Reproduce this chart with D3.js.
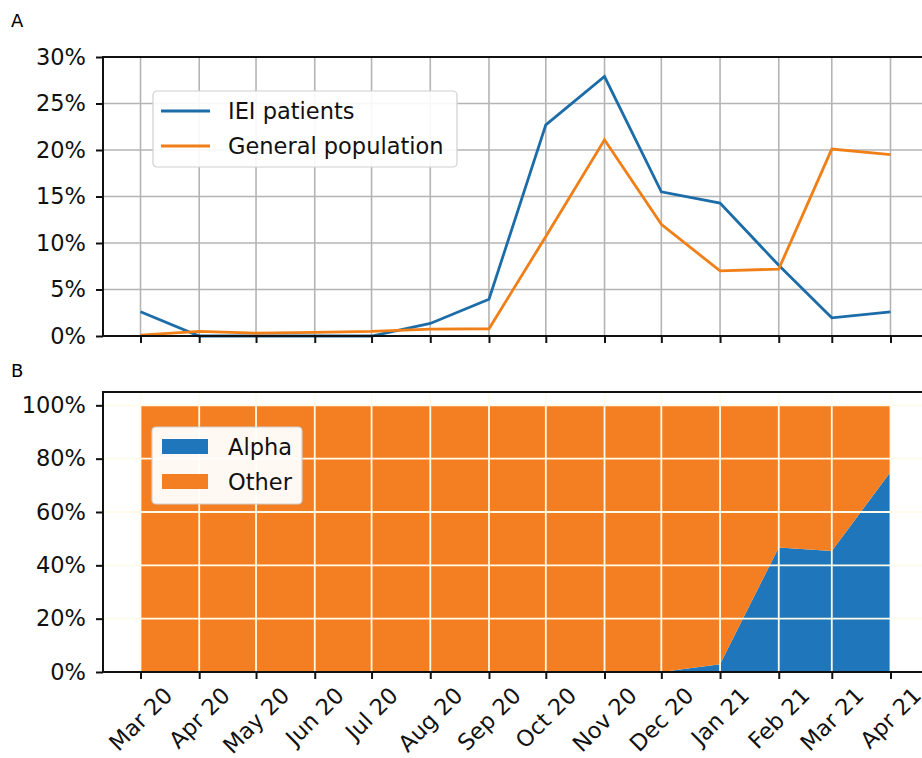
<!DOCTYPE html>
<html>
<head>
<meta charset="utf-8">
<script src="https://cdn.jsdelivr.net/npm/d3@7"></script>
<style>
  body { margin: 0; background: #fff; }
  svg { font-family: "DejaVu Sans", sans-serif; }
</style>
</head>
<body>
<svg id="chart" width="922" height="758"></svg>
<script>
/*
Two stacked panels: positivity line chart (A) and variant share stack (B)
*/
var months = ["2020-03-01","2020-04-01","2020-05-01","2020-06-01","2020-07-01","2020-08-01",
  "2020-09-01","2020-10-01","2020-11-01","2020-12-01","2021-01-01","2021-02-01","2021-03-01","2021-04-01"];
var monthLabels = ["Mar 20","Apr 20","May 20","Jun 20","Jul 20","Aug 20","Sep 20",
  "Oct 20","Nov 20","Dec 20","Jan 21","Feb 21","Mar 21","Apr 21"];

// panel A, percent positive
var ieiPatients = [2.6, 0, 0, 0, 0, 1.35, 3.95, 22.7, 27.9, 15.5, 14.3, 7.6, 1.95, 2.6];
var generalPopulation = [0.1, 0.5, 0.3, 0.4, 0.5, 0.75, 0.78, 10.7, 21.1, 12.0, 7.0, 7.2, 20.1, 19.5];
var yTicksA = [0, 5, 10, 15, 20, 25, 30];

// panel B, share of sequenced samples
var alphaShare = [0, 0, 0, 0, 0, 0, 0, 0, 0, 0, 0.029, 0.467, 0.454, 0.75];
var yTicksB = [0, 0.2, 0.4, 0.6, 0.8, 1.0];

var blueLine = "#1c6ca8", orangeLine = "#f17f17";
var blueFill = "#1f76ba", orangeFill = "#f47f22";
var fs = 22.5;

var svg = d3.select("#chart");
var dates = months.map(function(s) { return new Date(s + "T00:00:00Z"); });

// x: matplotlib-like 5% margin on each side
var span = dates[dates.length - 1] - dates[0];
var x = d3.scaleUtc()
    .domain([new Date(+dates[0] - span * 0.05), new Date(+dates[dates.length - 1] + span * 0.05)])
    .range([103, 928]);

var left = 103, right = 928;

// ---------- panel A ----------
var topA = 57, botA = 336;
var yA = d3.scaleLinear().domain([0, 30]).range([botA, topA]);

var gA = svg.append("g");

gA.append("g").selectAll("line.vgrid")
    .data(dates)
  .enter().append("line")
    .attr("x1", function(d) { return x(d); })
    .attr("x2", function(d) { return x(d); })
    .attr("y1", topA).attr("y2", botA)
    .attr("stroke", "#b4b4b4").attr("stroke-width", 1.6);

gA.append("g").selectAll("line.hgrid")
    .data(yTicksA)
  .enter().append("line")
    .attr("x1", left).attr("x2", right)
    .attr("y1", function(d) { return yA(d); })
    .attr("y2", function(d) { return yA(d); })
    .attr("stroke", "#b4b4b4").attr("stroke-width", 1.6);

var lineA = d3.line()
    .x(function(d, i) { return x(dates[i]); })
    .y(function(d) { return yA(d); });

gA.append("path").datum(ieiPatients)
    .attr("d", lineA).attr("fill", "none")
    .attr("stroke", blueLine).attr("stroke-width", 2.8);

gA.append("path").datum(generalPopulation)
    .attr("d", lineA).attr("fill", "none")
    .attr("stroke", orangeLine).attr("stroke-width", 2.8);

// spines
gA.append("rect")
    .attr("x", left).attr("y", topA)
    .attr("width", right - left).attr("height", botA - topA)
    .attr("fill", "none").attr("stroke", "#111").attr("stroke-width", 2);

gA.append("g")
    .attr("transform", "translate(" + left + ",0)")
    .call(d3.axisLeft(yA).tickValues(yTicksA).tickSize(7).tickPadding(10)
      .tickFormat(function(d) { return d + "%"; }));

gA.append("g")
    .attr("transform", "translate(0," + botA + ")")
    .call(d3.axisBottom(x).tickValues(dates).tickSize(7).tickFormat(""));

// legend A
var legA = gA.append("g").attr("transform", "translate(153,91)");
legA.append("rect")
    .attr("width", 304).attr("height", 76).attr("rx", 4)
    .attr("fill", "#fff").attr("fill-opacity", 0.9)
    .attr("stroke", "#d0d0d0").attr("stroke-width", 1.2);
[["IEI patients", blueLine], ["General population", orangeLine]].forEach(function(it, i) {
  var yy = 20 + i * 35;
  legA.append("line")
      .attr("x1", 8).attr("x2", 57).attr("y1", yy).attr("y2", yy)
      .attr("stroke", it[1]).attr("stroke-width", 2.8);
  legA.append("text")
      .attr("x", 75).attr("y", yy).attr("dy", "0.36em")
      .attr("font-size", fs).attr("fill", "#111")
      .text(it[0]);
});

// ---------- panel B ----------
var topB = 392, botB = 672;
var yB = d3.scaleLinear().domain([0, 1.05]).range([botB, topB]);

var gB = svg.append("g");

var stackRows = dates.map(function(d, i) { return { date: d, alpha: alphaShare[i], other: 1 - alphaShare[i] }; });
var series = d3.stack().keys(["alpha", "other"])(stackRows);
var area = d3.area()
    .x(function(d) { return x(d.data.date); })
    .y0(function(d) { return yB(d[0]); })
    .y1(function(d) { return yB(d[1]); });

gB.selectAll("path.layer")
    .data(series)
  .enter().append("path")
    .attr("d", area)
    .attr("fill", function(d) { return d.key === "alpha" ? blueFill : orangeFill; });

// white grid drawn over the areas
gB.append("g").selectAll("line")
    .data(dates)
  .enter().append("line")
    .attr("x1", function(d) { return x(d); })
    .attr("x2", function(d) { return x(d); })
    .attr("y1", topB).attr("y2", botB)
    .attr("stroke", "#fffbea").attr("stroke-width", 1.8);

gB.append("g").selectAll("line")
    .data(yTicksB)
  .enter().append("line")
    .attr("x1", left).attr("x2", right)
    .attr("y1", function(d) { return yB(d); })
    .attr("y2", function(d) { return yB(d); })
    .attr("stroke", "#fffbea").attr("stroke-width", 1.8);

gB.append("rect")
    .attr("x", left).attr("y", topB)
    .attr("width", right - left).attr("height", botB - topB)
    .attr("fill", "none").attr("stroke", "#111").attr("stroke-width", 2);

gB.append("g")
    .attr("transform", "translate(" + left + ",0)")
    .call(d3.axisLeft(yB).tickValues(yTicksB).tickSize(7).tickPadding(10)
      .tickFormat(d3.format(".0%")));

gB.append("g")
    .attr("transform", "translate(0," + botB + ")")
    .call(d3.axisBottom(x).tickValues(dates).tickSize(7).tickFormat(""));

// rotated month labels, bbox centred under each tick (matplotlib style)
var labels = gB.append("g").selectAll("text")
    .data(dates)
  .enter().append("text")
    .attr("font-size", fs).attr("fill", "#111")
    .attr("text-anchor", "middle")
    .attr("dominant-baseline", "central")
    .text(function(d, i) { return monthLabels[i]; });
labels.attr("transform", function(d) {
  var w = this.getComputedTextLength();
  var h = (w + fs * 0.9) * Math.SQRT1_2;
  return "translate(" + x(d) + "," + (botB + 12 + h / 2) + ")rotate(-45)";
});

// legend B
var legB = gB.append("g").attr("transform", "translate(152,427)");
legB.append("rect")
    .attr("width", 150).attr("height", 77).attr("rx", 4)
    .attr("fill", "#fff").attr("fill-opacity", 0.95)
    .attr("stroke", "#d0d0d0").attr("stroke-width", 1.2);
[["Alpha", blueFill], ["Other", orangeFill]].forEach(function(it, i) {
  var yy = 12 + i * 35;
  legB.append("rect")
      .attr("x", 10).attr("y", yy).attr("width", 46).attr("height", 15)
      .attr("fill", it[1]);
  legB.append("text")
      .attr("x", 76).attr("y", yy + 7.5).attr("dy", "0.36em")
      .attr("font-size", fs).attr("fill", "#111")
      .text(it[0]);
});

// axis styling
svg.selectAll(".domain").remove();
svg.selectAll(".tick line").attr("stroke", "#111").attr("stroke-width", 2);
svg.selectAll(".tick text").attr("font-size", fs).attr("fill", "#111")
    .attr("font-family", "DejaVu Sans, sans-serif");

// panel letters
svg.append("text").attr("x", 11).attr("y", 27).attr("font-size", 18).text("A");
svg.append("text").attr("x", 11).attr("y", 377).attr("font-size", 18).text("B");
</script>
</body>
</html>
